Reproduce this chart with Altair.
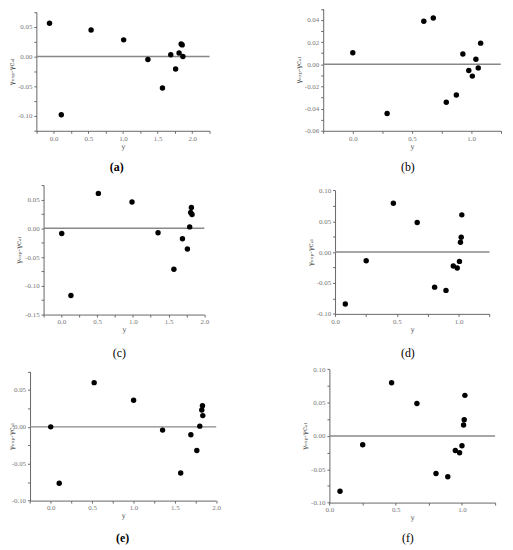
import altair as alt
import pandas as pd

# ---- data (x = y, y = gamma_exp - gamma_cal) ----
a_x = [-0.06, 0.11, 0.54, 1.01, 1.36, 1.57, 1.69, 1.76, 1.81, 1.84, 1.855, 1.865]
a_y = [0.056, -0.098, 0.0445, 0.028, -0.005, -0.053, 0.003, -0.021, 0.006, 0.021, 0.0195, 0.0]

b_x = [0.0, 0.29, 0.60, 0.68, 0.79, 0.875, 0.93, 0.98, 1.01, 1.04, 1.06, 1.08]
b_y = [0.0104, -0.0444, 0.0387, 0.0416, -0.0343, -0.0277, 0.0092, -0.0057, -0.0107, 0.0045, -0.0033, 0.019]

c_x = [0.004, 0.133, 0.517, 0.988, 1.352, 1.574, 1.694, 1.763, 1.795, 1.809, 1.819, 1.828]
c_y = [-0.0091, -0.117, 0.0606, 0.0457, -0.0079, -0.0713, -0.0182, -0.036, 0.0024, 0.0274, 0.036, 0.024]

d_x = [0.083, 0.252, 0.472, 0.665, 0.806, 0.898, 0.957, 0.989, 1.007, 1.015, 1.021, 1.026]
d_y = [-0.084, -0.0139, 0.079, 0.048, -0.0567, -0.062, -0.0225, -0.0257, -0.015, 0.016, 0.024, 0.0603]

e_x = [0.0, 0.103, 0.525, 1.002, 1.352, 1.571, 1.694, 1.766, 1.802, 1.826, 1.834, 1.838]
e_y = [0.0, -0.0764, 0.06, 0.0362, -0.0044, -0.0625, -0.0107, -0.032, 0.001, 0.0228, 0.0286, 0.0153]

f_x = [0.08, 0.251, 0.469, 0.66, 0.804, 0.893, 0.95, 0.982, 1.0, 1.012, 1.017, 1.022]
f_y = [-0.083, -0.0134, 0.0796, 0.0485, -0.0564, -0.0613, -0.0218, -0.0252, -0.0148, 0.0163, 0.0242, 0.0608]

# axis domains and tick values
x_dom_a = [-0.25, 2.25]
x_dom_ce = [-0.25, 2.0]
x_dom_b = [-0.25, 1.25]
x_dom_df = [0.0, 1.25]
x_ticks_a = [-0.25, 0.0, 0.25, 0.5, 0.75, 1.0, 1.25, 1.5, 1.75, 2.0, 2.25]
x_ticks_ce = [-0.25, 0.0, 0.25, 0.5, 0.75, 1.0, 1.25, 1.5, 1.75, 2.0]
x_ticks_b = [-0.25, 0.0, 0.25, 0.5, 0.75, 1.0, 1.25]
x_ticks_df = [0.0, 0.25, 0.5, 0.75, 1.0, 1.25]

y_dom_a = [-0.125, 0.075]
y_dom_b = [-0.06, 0.05]
y_dom_c = [-0.15, 0.075]
y_dom_df = [-0.10, 0.10]
y_dom_e = [-0.10, 0.075]
y_ticks_a = [-0.125, -0.1, -0.075, -0.05, -0.025, 0.0, 0.025, 0.05, 0.075]
y_ticks_b = [-0.06, -0.05, -0.04, -0.03, -0.02, -0.01, 0.0, 0.01, 0.02, 0.03, 0.04, 0.05]
y_ticks_c = [-0.15, -0.125, -0.1, -0.075, -0.05, -0.025, 0.0, 0.025, 0.05, 0.075]
y_ticks_df = [-0.1, -0.075, -0.05, -0.025, 0.0, 0.025, 0.05, 0.075, 0.1]
y_ticks_e = [-0.1, -0.075, -0.05, -0.025, 0.0, 0.025, 0.05, 0.075]

captions = ["(a)", "(b)", "(c)", "(d)", "(e)", "(f)"]
Y_TITLE = "γₑₓₚ-γcₐₗ"
X_TITLE = "y"

W, H = 503, 540
SERIF = "Liberation Serif"


def lab_expr(mult, fmt):
    return (f"abs(datum.value*{mult} - round(datum.value*{mult})) < 0.001 ? "
            f"replace(format(datum.value, '{fmt}'), '\u2212', '-') : ''")


def panel(xs, ys, xdom, ydom, xr, yr, xticks, yticks, ymult, title_x=None):
    df = pd.DataFrame({"yv": xs, "dev": ys})
    xsc = alt.Scale(domain=xdom, range=xr, nice=False, zero=False)
    ysc = alt.Scale(domain=ydom, range=yr, nice=False, zero=False)
    common = dict(
        domainColor="#666", tickColor="#666", tickSize=2.5, labelFont=SERIF,
        labelFontSize=7, labelColor="#777", titleFont="DejaVu Serif",
        titleFontSize=7, titleColor="#444", titleFontWeight="normal",
        labelOverlap=False, grid=False,
    )
    xaxis = alt.Axis(orient="bottom", offset=yr[0] - H, values=xticks,
                     labelExpr=lab_expr(2, ".1f"), title=X_TITLE,
                     labelFlush=False, labelPadding=1, titlePadding=1, **common)
    yextra = {}
    if title_x is not None:
        yextra = dict(titleX=title_x - xr[0], titleY=(yr[0] + yr[1]) / 2,
                      titleBaseline="middle", titleAlign="center")
    yaxis = alt.Axis(orient="left", offset=-xr[0], values=yticks,
                     labelExpr=lab_expr(ymult, ".2f"), title=Y_TITLE,
                     labelPadding=2, titlePadding=3, **common, **yextra)
    zero = alt.Chart(alt.Data(values=[{}])).mark_rule(
        color="#888", strokeWidth=1.5
    ).encode(
        x=alt.XDatum(xdom[0]),
        x2=alt.X2Datum(xdom[1]),
        y=alt.YDatum(0),
    )
    pts = alt.Chart(df).mark_circle(size=30, color="black", opacity=1).encode(
        x=alt.X("yv:Q", scale=xsc, axis=xaxis),
        y=alt.Y("dev:Q", scale=ysc, axis=yaxis),
    )
    return alt.layer(zero, pts)


def caption(txt, x, y, bold):
    return alt.Chart(alt.Data(values=[{}])).mark_text(
        text=txt, font=SERIF, fontSize=12,
        fontWeight="bold" if bold else "normal", color="black",
        baseline="middle", align="center",
    ).encode(x=alt.value(x), y=alt.value(y))


panels = [
    panel(a_x, a_y, x_dom_a, y_dom_a, [28.7, 204], [121, 0.7], x_ticks_a, y_ticks_a, 20),
    panel(b_x, b_y, x_dom_b, y_dom_b, [319, 498.7], [121, -2.5], x_ticks_b, y_ticks_b, 50),
    panel(c_x, c_y, x_dom_ce, y_dom_c, [36, 198.7], [307, 176], x_ticks_ce, y_ticks_c, 20),
    panel(d_x, d_y, x_dom_df, y_dom_df, [331, 487.3], [306.3, 181.3], x_ticks_df, y_ticks_df, 20),
    panel(e_x, e_y, x_dom_ce, y_dom_e, [22.3, 210.7], [495.3, 364.7], x_ticks_ce, y_ticks_e, 20,
          title_x=4),
    panel(f_x, f_y, x_dom_df, y_dom_df, [325.3, 493], [497.3, 362.3], x_ticks_df, y_ticks_df, 20),
]
caps = [
    caption(captions[0], 110, 158, True),
    caption(captions[1], 404.7, 158, False),
    caption(captions[2], 112.7, 346, False),
    caption(captions[3], 404.7, 346, False),
    caption(captions[4], 116, 533, True),
    caption(captions[5], 404.7, 533, False),
]

chart = alt.layer(*panels, *caps).resolve_scale(
    x="independent", y="independent"
).properties(
    width=W, height=H, padding=0,
    autosize=alt.AutoSizeParams(type="none"),
).configure_view(stroke=None).configure_axis(grid=False)

chart.save("out.html", embed_options={"renderer": "svg", "actions": False})
